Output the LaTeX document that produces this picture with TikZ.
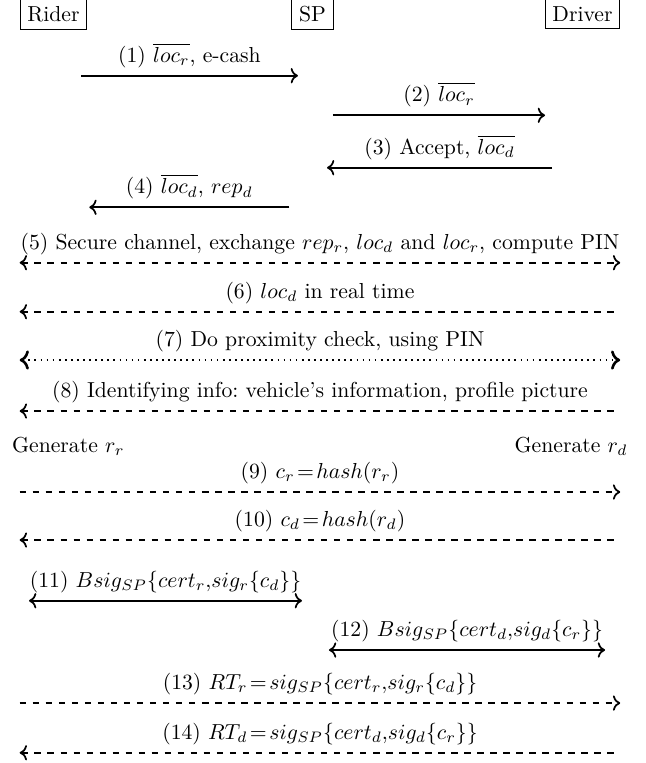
\documentclass[tikz,border=0pt]{standalone}
\usepackage{amsmath}
\usepackage{amssymb}
\usepackage{tikz}
\usetikzlibrary{arrows.meta,calc,positioning}
\tikzset{
	party/.style={draw, inner sep=3.33pt},
	msg/.style={thick},
	ar/.style={msg,->},
	arback/.style={msg,<-},
	artwo/.style={msg,<->},
	lbl/.style={midway, above}
}
\newcommand{\ol}[1]{\overline{#1}}

\begin{document}
\begin{tikzpicture}
   \useasboundingbox (0,0) rectangle (10.446,-12.357);
   \node[party] (rider)  at (0.866,-0.227) {Rider};
   \node[party] (sp)     at (5.061,-0.227) {SP};
   \node[party] (driver) at (9.434,-0.227) {Driver};
   % ends of the long messages
   \foreach \n/\y in {5/4.255, 6/5.048, 7/5.831, 8/6.657, 9/7.968, 10/8.746, 13/11.386, 14/12.191} {
      \coordinate (r\n) at (rider.west |- 0,-\y);
      \coordinate (d\n) at (driver.east |- 0,-\y);
   }
   \draw[ar] (1.312,-1.226) -- (4.826,-1.226)
      node[lbl] {(1) $\ol{loc_r}$, e-cash};
   \draw[ar] (5.393,-1.867) -- (8.827,-1.867)
      node[lbl] {(2) $\ol{loc_r}$};
   \draw[ar] (8.94,-2.716) -- (5.296,-2.716)
      node[lbl] {(3) Accept, $\ol{loc_d}$};
   \draw[ar] (4.685,-3.357) -- (1.446,-3.357)
      node[lbl] {(4) $\ol{loc_d}$, $rep_d$};
   \draw[artwo, dashed] (r5) -- (d5)
      node[lbl] {(5) Secure channel, exchange $rep_r$, $loc_d$ and $loc_r$, compute PIN};
   \draw[arback, dashed] (r6) -- (d6)
      node[lbl] {(6) $loc_d$ in real time};
   \draw[artwo, dotted, very thick] (r7) -- (d7)
      node[lbl] {(7) Do proximity check, using PIN};
   \draw[arback, dashed] (r8) -- (d8)
      node[lbl] {(8) Identifying info:\ vehicle's information,\ profile picture};
   \node[anchor=west] (genr) at (0.072,-7.223) {Generate $r_r$};
   \node[anchor=east] (gend) at (10.288,-7.223) {Generate $r_d$};
   \draw[ar, dashed] (r9) -- (d9)
      node[lbl] {(9) $c_r\!=\!hash(r_r)$};
   \draw[arback, dashed] (r10) -- (d10)
      node[lbl] {(10) $c_d\!=\!hash(r_d)$};
   \draw[artwo] (0.47,-9.729) -- (4.891,-9.729)
      node[lbl] {(11) $Bsig_{SP}\{cert_r{,}sig_r\{c_d\}\}$};
   \draw[artwo] (5.328,-10.527) -- (9.799,-10.527)
      node[lbl] {(12) $Bsig_{SP}\{cert_d{,}sig_d\{c_r\}\}$};
   \draw[ar, dashed] (r13) -- (d13)
      node[lbl] {(13) $RT_r\!=\!sig_{SP}\{cert_r{,}sig_r\{c_d\}\}$};
   \draw[arback, dashed] (r14) -- (d14)
      node[lbl] {(14) $RT_d\!=\!sig_{SP}\{cert_d{,}sig_d\{c_r\}\}$};
\end{tikzpicture}
\end{document}
